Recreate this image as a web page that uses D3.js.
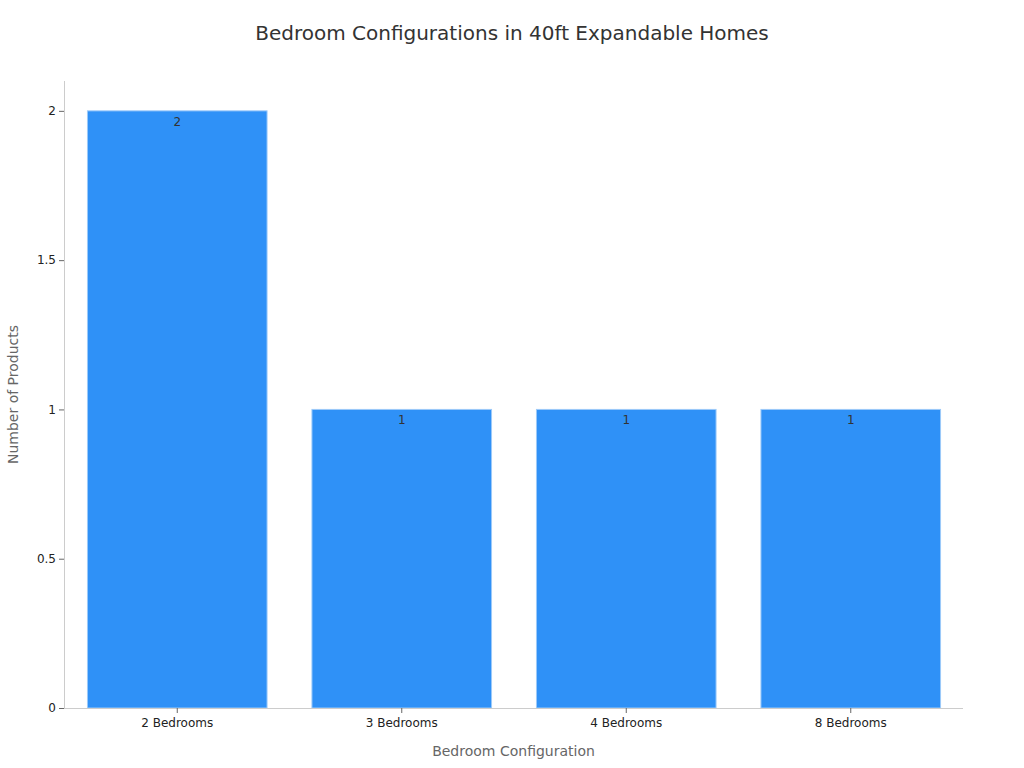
<!DOCTYPE html>
<html>
<head>
<meta charset="utf-8">
<script src="https://cdn.jsdelivr.net/npm/d3@7"></script>
<style>
  body { margin: 0; background: #fff; }
  text { font-family: "DejaVu Sans", sans-serif; }
</style>
</head>
<body>
<svg id="chart" width="1024" height="768"></svg>
<script>
var categories = ["2 Bedrooms", "3 Bedrooms", "4 Bedrooms", "8 Bedrooms"];
var counts = [2, 1, 1, 1];
var yTicks = [0, 0.5, 1, 1.5, 2];

var svg = d3.select("#chart");
var mLeft = 64, mRight = 963, mTop = 81, mBottom = 708;

var x = d3.scaleBand().domain(categories).range([mLeft + 1, mRight]).paddingInner(0.2).paddingOuter(0.1);
var y = d3.scaleLinear().domain([0, 2.1]).range([mBottom, mTop]);

svg.append("text")
  .attr("x", 512).attr("y", 40)
  .attr("text-anchor", "middle")
  .style("font-size", "20px")
  .style("fill", "#333")
  .text("Bedroom Configurations in 40ft Expandable Homes");

// bars
svg.selectAll("rect.bar")
  .data(counts).enter()
  .append("rect")
  .attr("class", "bar")
  .attr("x", function(d, i) { return x(categories[i]); })
  .attr("y", function(d) { return y(d); })
  .attr("width", x.bandwidth())
  .attr("height", function(d) { return y(0) - y(d); })
  .style("fill", "#2f91f7")
  .style("stroke", "#9ccaf9")
  .style("stroke-width", 1);

svg.selectAll("text.val")
  .data(counts).enter()
  .append("text")
  .attr("class", "val")
  .attr("x", function(d, i) { return x(categories[i]) + x.bandwidth() / 2; })
  .attr("y", function(d) { return y(d) + 15; })
  .attr("text-anchor", "middle")
  .style("font-size", "12px")
  .style("fill", "#333")
  .text(function(d) { return d; });

// y axis
var yAxis = svg.append("g")
  .attr("transform", "translate(" + mLeft + ",0)")
  .call(d3.axisLeft(y).tickValues(yTicks).tickSize(5).tickSizeOuter(0).tickFormat(d3.format("")));
yAxis.select(".domain").attr("stroke", "#ccc").attr("d", "M0.5," + mBottom + "V" + mTop);
yAxis.selectAll(".tick line").attr("stroke", "#666");
yAxis.selectAll(".tick text").style("font-size", "12px").style("fill", "#222").style("font-family", "DejaVu Sans, sans-serif").attr("x", -8);

// x axis
var xAxis = svg.append("g")
  .attr("transform", "translate(0," + mBottom + ")")
  .call(d3.axisBottom(x).tickSize(5).tickSizeOuter(0));
xAxis.select(".domain").attr("stroke", "#ccc").attr("d", "M" + mLeft + ",0.5H" + mRight);
xAxis.selectAll(".tick line").attr("stroke", "#666");
xAxis.selectAll(".tick text").style("font-size", "12px").style("fill", "#222").style("font-family", "DejaVu Sans, sans-serif").attr("y", 10);

svg.append("text")
  .attr("x", (mLeft + mRight) / 2).attr("y", 756)
  .attr("text-anchor", "middle")
  .style("font-size", "14px")
  .style("fill", "#666")
  .text("Bedroom Configuration");

svg.append("text")
  .attr("transform", "translate(18," + ((mTop + mBottom) / 2) + ") rotate(-90)")
  .attr("text-anchor", "middle")
  .style("font-size", "14px")
  .style("fill", "#666")
  .text("Number of Products");
</script>
</body>
</html>
